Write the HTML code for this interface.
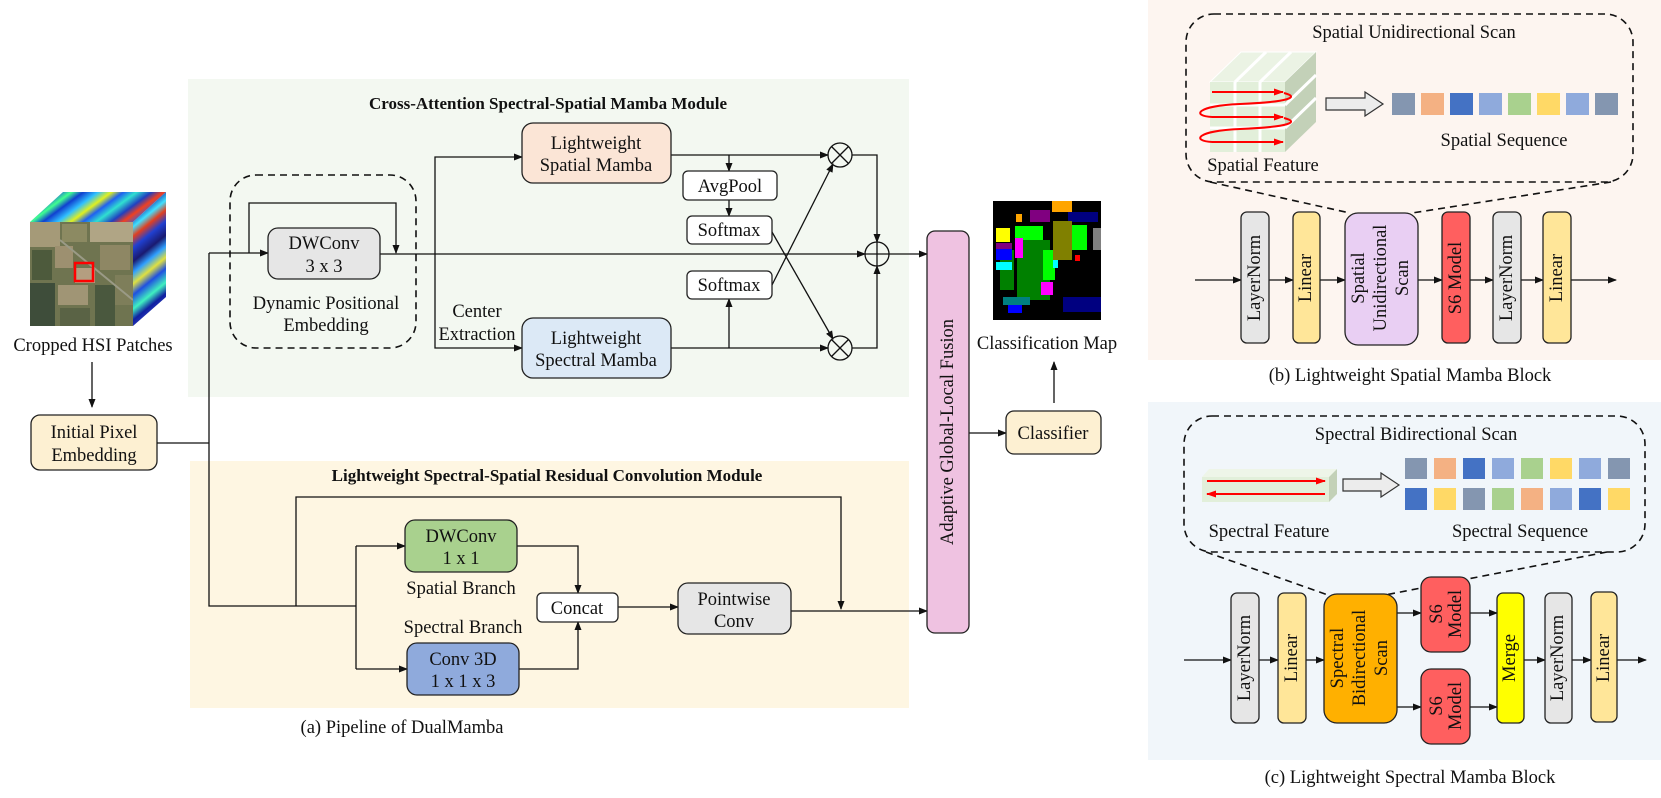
<!DOCTYPE html>
<html><head><meta charset="utf-8"><style>
html,body{margin:0;padding:0;background:#fff;}
svg{display:block;font-family:"Liberation Serif","DejaVu Serif",serif;}
text{fill:#111;font-family:"Liberation Serif","DejaVu Serif",serif;}
</style></head><body>
<svg width="1661" height="798" viewBox="0 0 1661 798" xmlns="http://www.w3.org/2000/svg" font-family="Liberation Serif, serif">
<defs>
<marker id="a" markerWidth="9" markerHeight="8" refX="8" refY="4" orient="auto" markerUnits="userSpaceOnUse"><path d="M0,0.5 L9,4 L0,7.5 z" fill="#111"/></marker>
<marker id="r" markerWidth="10" markerHeight="8" refX="9" refY="4" orient="auto" markerUnits="userSpaceOnUse"><path d="M0,0.5 L10,4 L0,7.5 z" fill="#f00"/></marker>
<linearGradient id="top" x1="0" y1="0" x2="1" y2="0.3">
<stop offset="0" stop-color="#1030c0"/><stop offset="0.1" stop-color="#30d0ff"/><stop offset="0.18" stop-color="#2050e0"/><stop offset="0.28" stop-color="#40ff90"/><stop offset="0.36" stop-color="#1040d0"/><stop offset="0.46" stop-color="#30c0ff"/><stop offset="0.55" stop-color="#e0f020"/><stop offset="0.63" stop-color="#2060f0"/><stop offset="0.72" stop-color="#30e0d0"/><stop offset="0.82" stop-color="#2040c0"/><stop offset="0.9" stop-color="#f04020"/><stop offset="1" stop-color="#3060e0"/>
</linearGradient>
<linearGradient id="side" x1="0" y1="0" x2="0.2" y2="1">
<stop offset="0" stop-color="#2030a0"/><stop offset="0.08" stop-color="#30c0f0"/><stop offset="0.15" stop-color="#1020a0"/><stop offset="0.25" stop-color="#40e0ff"/><stop offset="0.32" stop-color="#e04020"/><stop offset="0.4" stop-color="#2040d0"/><stop offset="0.5" stop-color="#1a1a70"/><stop offset="0.58" stop-color="#30a0ff"/><stop offset="0.66" stop-color="#e0e040"/><stop offset="0.74" stop-color="#2050e0"/><stop offset="0.84" stop-color="#40f0c0"/><stop offset="0.92" stop-color="#1020a0"/><stop offset="1" stop-color="#3040c0"/>
</linearGradient>
<clipPath id="ff"><rect x="30" y="222" width="103" height="104"/></clipPath>
</defs>

<rect x="188" y="79" width="721" height="318" fill="#f3f8f1"/>
<rect x="190" y="461" width="719" height="247" fill="#fef6e2"/>
<rect x="1148" y="0" width="513" height="360" fill="#fdf5f0"/>
<rect x="1148" y="402" width="513" height="358" fill="#f1f6fa"/>

<polygon points="30,222 63,192 166,192 133,222" fill="url(#top)"/>
<polygon points="133,222 166,192 166,297 133,326" fill="url(#side)"/>
<g clip-path="url(#ff)">
<rect x="30" y="222" width="103" height="104" fill="#6f7450"/>
<rect x="30" y="222" width="30" height="25" fill="#a59a78"/>
<rect x="62" y="224" width="25" height="18" fill="#8c8a62"/>
<rect x="90" y="222" width="43" height="20" fill="#b0a585"/>
<rect x="32" y="250" width="20" height="30" fill="#4d5a3c"/>
<rect x="55" y="246" width="18" height="22" fill="#9d9070"/>
<rect x="100" y="245" width="30" height="25" fill="#8e8764"/>
<rect x="30" y="283" width="25" height="43" fill="#3e4d3a"/>
<rect x="58" y="285" width="30" height="20" fill="#a09575"/>
<rect x="60" y="308" width="30" height="18" fill="#5a6345"/>
<rect x="95" y="285" width="20" height="41" fill="#4a583e"/>
<rect x="115" y="275" width="18" height="30" fill="#7e7e5a"/>
<rect x="75" y="268" width="20" height="15" fill="#b49e80"/>
<line x1="60" y1="240" x2="133" y2="300" stroke="#9a9a86" stroke-width="2"/>
</g>
<rect x="75" y="263" width="18" height="18" fill="none" stroke="#f00" stroke-width="2.5"/>
<text x="93" y="351" font-size="18.5" text-anchor="middle">Cropped HSI Patches</text>
<line x1="92" y1="362" x2="92" y2="407" stroke="#111" stroke-width="1.3" marker-end="url(#a)"/>
<rect x="31" y="415" width="126" height="55" rx="9" fill="#fdf0d2" stroke="#222" stroke-width="1.3"/>
<text x="94" y="438" font-size="18.5" text-anchor="middle">Initial Pixel</text>
<text x="94" y="461" font-size="18.5" text-anchor="middle">Embedding</text>

<g stroke="#111" stroke-width="1.3" fill="none">
<polyline points="157,443 209,443"/>
<polyline points="209,253 209,606 356,606"/>
<line x1="209" y1="253" x2="268" y2="253" marker-end="url(#a)"/>
<polyline points="249,253 249,203 396,203 396,253" marker-end="url(#a)"/>
<line x1="380" y1="254" x2="865" y2="254" marker-end="url(#a)"/>
<polyline points="435,254 435,157 522,157" marker-end="url(#a)"/>
<polyline points="435,254 435,348 522,348" marker-end="url(#a)"/>
<line x1="671" y1="155" x2="828" y2="155" marker-end="url(#a)"/>
<line x1="729" y1="155" x2="729" y2="171" marker-end="url(#a)"/>
<line x1="729" y1="200" x2="729" y2="216" marker-end="url(#a)"/>
<line x1="671" y1="348" x2="828" y2="348" marker-end="url(#a)"/>
<line x1="729" y1="348" x2="729" y2="299" marker-end="url(#a)"/>
<line x1="772" y1="232" x2="833" y2="339" marker-end="url(#a)"/>
<line x1="772" y1="285" x2="833" y2="164" marker-end="url(#a)"/>
<polyline points="852,155 877,155 877,242" marker-end="url(#a)"/>
<polyline points="852,348 877,348 877,266" marker-end="url(#a)"/>
<line x1="889" y1="254" x2="927" y2="254" marker-end="url(#a)"/>
<line x1="969" y1="433" x2="1006" y2="433" marker-end="url(#a)"/>
<line x1="1054" y1="403" x2="1054" y2="362" marker-end="url(#a)"/>
</g>
<rect x="230" y="175" width="186" height="173" rx="26" fill="none" stroke="#111" stroke-width="1.6" stroke-dasharray="7,5"/>
<rect x="268" y="228" width="112" height="51" rx="10" fill="#e6e6e6" stroke="#222" stroke-width="1.3"/>
<text x="324" y="249" font-size="18.5" text-anchor="middle">DWConv</text>
<text x="324" y="272" font-size="18.5" text-anchor="middle">3 x 3</text>
<text x="326" y="309" font-size="18.5" text-anchor="middle">Dynamic Positional</text>
<text x="326" y="331" font-size="18.5" text-anchor="middle">Embedding</text>

<text x="548" y="109" font-size="17" font-weight="bold" text-anchor="middle">Cross-Attention Spectral-Spatial Mamba Module</text>
<rect x="522" y="123" width="149" height="60" rx="11" fill="#fbe5d6" stroke="#222" stroke-width="1.3"/>
<text x="596" y="149" font-size="18.5" text-anchor="middle">Lightweight</text>
<text x="596" y="171" font-size="18.5" text-anchor="middle">Spatial Mamba</text>
<rect x="522" y="318" width="149" height="60" rx="11" fill="#dce9f6" stroke="#222" stroke-width="1.3"/>
<text x="596" y="344" font-size="18.5" text-anchor="middle">Lightweight</text>
<text x="596" y="366" font-size="18.5" text-anchor="middle">Spectral Mamba</text>
<text x="477" y="317" font-size="18.5" text-anchor="middle">Center</text>
<text x="477" y="340" font-size="18.5" text-anchor="middle">Extraction</text>
<rect x="683" y="171" width="94" height="29" rx="5" fill="#fff" stroke="#222" stroke-width="1.3"/>
<text x="730" y="192" font-size="18.5" text-anchor="middle">AvgPool</text>
<rect x="687" y="216" width="85" height="28" rx="5" fill="#fff" stroke="#222" stroke-width="1.3"/>
<text x="729" y="236" font-size="18.5" text-anchor="middle">Softmax</text>
<rect x="687" y="271" width="85" height="28" rx="5" fill="#fff" stroke="#222" stroke-width="1.3"/>
<text x="729" y="291" font-size="18.5" text-anchor="middle">Softmax</text>
<g stroke="#111" stroke-width="1.3" fill="none">
<circle cx="840" cy="155" r="12"/><line x1="831.5" y1="146.5" x2="848.5" y2="163.5"/><line x1="848.5" y1="146.5" x2="831.5" y2="163.5"/>
<circle cx="840" cy="348" r="12"/><line x1="831.5" y1="339.5" x2="848.5" y2="356.5"/><line x1="848.5" y1="339.5" x2="831.5" y2="356.5"/>
<circle cx="877" cy="254" r="12"/><line x1="865" y1="254" x2="889" y2="254"/><line x1="877" y1="242" x2="877" y2="266"/>
</g>

<text x="547" y="481" font-size="17" font-weight="bold" text-anchor="middle">Lightweight Spectral-Spatial Residual Convolution Module</text>
<g stroke="#111" stroke-width="1.3" fill="none">
<polyline points="296,606 296,497 841,497 841,609" marker-end="url(#a)"/>
<polyline points="356,546 356,669"/>
<line x1="356" y1="546" x2="405" y2="546" marker-end="url(#a)"/>
<line x1="356" y1="669" x2="407" y2="669" marker-end="url(#a)"/>
<polyline points="517,546 578,546 578,593" marker-end="url(#a)"/>
<polyline points="519,669 578,669 578,622" marker-end="url(#a)"/>
<line x1="618" y1="607" x2="678" y2="607" marker-end="url(#a)"/>
<line x1="791" y1="611" x2="927" y2="611" marker-end="url(#a)"/>
</g>
<rect x="405" y="520" width="112" height="52" rx="10" fill="#a9d18e" stroke="#222" stroke-width="1.3"/>
<text x="461" y="542" font-size="18.5" text-anchor="middle">DWConv</text>
<text x="461" y="564" font-size="18.5" text-anchor="middle">1 x 1</text>
<text x="461" y="594" font-size="18.5" text-anchor="middle">Spatial Branch</text>
<text x="463" y="633" font-size="18.5" text-anchor="middle">Spectral Branch</text>
<rect x="407" y="643" width="112" height="52" rx="10" fill="#8faadc" stroke="#222" stroke-width="1.3"/>
<text x="463" y="665" font-size="18.5" text-anchor="middle">Conv 3D</text>
<text x="463" y="687" font-size="18.5" text-anchor="middle">1 x 1 x 3</text>
<rect x="537" y="593" width="81" height="29" rx="5" fill="#fff" stroke="#222" stroke-width="1.3"/>
<text x="577" y="614" font-size="18.5" text-anchor="middle">Concat</text>
<rect x="678" y="583" width="113" height="51" rx="10" fill="#e6e6e6" stroke="#222" stroke-width="1.3"/>
<text x="734" y="605" font-size="18.5" text-anchor="middle">Pointwise</text>
<text x="734" y="627" font-size="18.5" text-anchor="middle">Conv</text>
<text x="402" y="733" font-size="18.5" text-anchor="middle">(a) Pipeline of DualMamba</text>

<rect x="927" y="231" width="42" height="402" rx="8" fill="#efc2e1" stroke="#222" stroke-width="1.3"/>
<text transform="translate(948,432) rotate(-90)" font-size="18.5" text-anchor="middle" dominant-baseline="central">Adaptive Global-Local Fusion</text>
<rect x="993" y="201" width="108" height="119" fill="#000"/>
<rect x="1017" y="240" width="33" height="60" fill="#008000"/>
<rect x="1000" y="250" width="14" height="40" fill="#008000"/>
<rect x="1015" y="226" width="28" height="14" fill="#00ff00"/>
<rect x="1043" y="250" width="12" height="30" fill="#00ff00"/>
<rect x="1015" y="238" width="8" height="20" fill="#ff00ff"/>
<rect x="1041" y="282" width="12" height="13" fill="#ff00ff"/>
<rect x="996" y="228" width="14" height="14" fill="#ffff00"/>
<rect x="996" y="249" width="16" height="11" fill="#0000ff"/>
<rect x="1008" y="305" width="14" height="8" fill="#0000ff"/>
<rect x="1063" y="297" width="38" height="15" fill="#000080"/>
<rect x="1068" y="212" width="30" height="10" fill="#000080"/>
<rect x="996" y="262" width="16" height="8" fill="#00ffff"/>
<rect x="1053" y="257" width="5" height="11" fill="#00ffff"/>
<rect x="1053" y="221" width="19" height="39" fill="#808000"/>
<rect x="1093" y="228" width="8" height="22" fill="#808080"/>
<rect x="1030" y="210" width="20" height="12" fill="#800080"/>
<rect x="996" y="243" width="16" height="6" fill="#800080"/>
<rect x="1052" y="201" width="20" height="11" fill="#ffa500"/>
<rect x="1016" y="214" width="6" height="8" fill="#ffa500"/>
<rect x="1003" y="297" width="27" height="8" fill="#008080"/>
<rect x="1072" y="225" width="15" height="25" fill="#00ff00"/>
<rect x="1075" y="255" width="5" height="6" fill="#ff0000"/>
<text x="1047" y="349" font-size="18.5" text-anchor="middle">Classification Map</text>
<rect x="1006" y="411" width="95" height="43" rx="8" fill="#fdf0d2" stroke="#222" stroke-width="1.3"/>
<text x="1053" y="439" font-size="18.5" text-anchor="middle">Classifier</text>

<rect x="1186" y="14" width="447" height="168" rx="28" fill="none" stroke="#111" stroke-width="1.6" stroke-dasharray="7,5"/>
<text x="1414" y="38" font-size="18.5" text-anchor="middle">Spatial Unidirectional Scan</text>
<polygon points="1210,82 1241,52 1316,52 1285,82" fill="#ebf3e4" stroke="#fff" stroke-width="1"/>
<polygon points="1285,82 1316,52 1316,122 1285,152" fill="#c3d1b8"/>
<rect x="1210" y="82" width="75" height="70" fill="#e2efda"/>
<g stroke="#fff" stroke-width="3">
<line x1="1235" y1="82" x2="1235" y2="152"/><line x1="1260" y1="82" x2="1260" y2="152"/>
<line x1="1210" y1="105" x2="1285" y2="105"/><line x1="1210" y1="128" x2="1285" y2="128"/>
<line x1="1235" y1="82" x2="1266" y2="52"/><line x1="1260" y1="82" x2="1291" y2="52"/>
<line x1="1285" y1="105" x2="1316" y2="75"/><line x1="1285" y1="128" x2="1316" y2="98"/>
</g>
<g stroke="#f00" stroke-width="2" fill="none">
<line x1="1212" y1="92" x2="1283" y2="92" marker-end="url(#r)"/>
<line x1="1212" y1="117" x2="1283" y2="117" marker-end="url(#r)"/>
<line x1="1212" y1="142" x2="1283" y2="142" marker-end="url(#r)"/>
<path d="M1284,93 C1300,97 1290,102 1240,104 C1195,106 1192,116 1212,117"/>
<path d="M1284,118 C1300,122 1290,127 1240,129 C1195,131 1192,141 1212,142"/>
</g>
<polygon points="1326,98 1365,98 1365,92 1383,104 1365,116 1365,110 1326,110" fill="#ececec" stroke="#333" stroke-width="1.2"/>
<g>
<rect x="1392" y="93" width="23" height="22" fill="#8496b0"/>
<rect x="1421" y="93" width="23" height="22" fill="#f4b183"/>
<rect x="1450" y="93" width="23" height="22" fill="#4472c4"/>
<rect x="1479" y="93" width="23" height="22" fill="#8faadc"/>
<rect x="1508" y="93" width="23" height="22" fill="#a9d18e"/>
<rect x="1537" y="93" width="23" height="22" fill="#ffd966"/>
<rect x="1566" y="93" width="23" height="22" fill="#8faadc"/>
<rect x="1595" y="93" width="23" height="22" fill="#8496b0"/>
</g>
<text x="1504" y="146" font-size="18.5" text-anchor="middle">Spatial Sequence</text>
<text x="1263" y="171" font-size="18.5" text-anchor="middle">Spatial Feature</text>
<g stroke="#111" stroke-width="1.6" stroke-dasharray="7,5">
<line x1="1210" y1="182" x2="1350" y2="213"/><line x1="1611" y1="182" x2="1412" y2="213"/>
</g>
<g stroke="#111" stroke-width="1.3" fill="none">
<line x1="1195" y1="280" x2="1241" y2="280" marker-end="url(#a)"/>
<line x1="1269" y1="280" x2="1293" y2="280" marker-end="url(#a)"/>
<line x1="1320" y1="280" x2="1345" y2="280" marker-end="url(#a)"/>
<line x1="1418" y1="280" x2="1442" y2="280" marker-end="url(#a)"/>
<line x1="1470" y1="280" x2="1493" y2="280" marker-end="url(#a)"/>
<line x1="1521" y1="280" x2="1543" y2="280" marker-end="url(#a)"/>
<line x1="1571" y1="280" x2="1616" y2="280" marker-end="url(#a)"/>
</g>
<g stroke="#222" stroke-width="1.3">
<rect x="1241" y="212" width="28" height="131" rx="6" fill="#e6e6e6"/>
<rect x="1293" y="212" width="27" height="131" rx="6" fill="#ffe699"/>
<rect x="1345" y="213" width="73" height="132" rx="13" fill="#e9cff3"/>
<rect x="1442" y="212" width="28" height="131" rx="6" fill="#ff5f5f"/>
<rect x="1493" y="212" width="28" height="131" rx="6" fill="#e6e6e6"/>
<rect x="1543" y="212" width="28" height="131" rx="6" fill="#ffe699"/>
</g>
<g font-size="18.5" text-anchor="middle" dominant-baseline="central">
<text transform="translate(1255,278) rotate(-90)">LayerNorm</text>
<text transform="translate(1306,278) rotate(-90)">Linear</text>
<text transform="translate(1359,278) rotate(-90)">Spatial</text>
<text transform="translate(1381,278) rotate(-90)">Unidirectional</text>
<text transform="translate(1403,278) rotate(-90)">Scan</text>
<text transform="translate(1456,278) rotate(-90)">S6 Model</text>
<text transform="translate(1507,278) rotate(-90)">LayerNorm</text>
<text transform="translate(1557,278) rotate(-90)">Linear</text>
</g>
<text x="1410" y="381" font-size="18.5" text-anchor="middle">(b) Lightweight Spatial Mamba Block</text>

<rect x="1184" y="416" width="461" height="136" rx="28" fill="none" stroke="#111" stroke-width="1.6" stroke-dasharray="7,5"/>
<text x="1416" y="440" font-size="18.5" text-anchor="middle">Spectral Bidirectional Scan</text>
<polygon points="1202,477 1209,469 1337,469 1329,477" fill="#eef5e8"/>
<polygon points="1329,477 1337,469 1337,494 1329,502" fill="#c3d1b8"/>
<rect x="1202" y="477" width="127" height="25" fill="#e2efda"/>
<line x1="1207" y1="481" x2="1325" y2="481" stroke="#f00" stroke-width="2" marker-end="url(#r)"/>
<line x1="1325" y1="494" x2="1207" y2="494" stroke="#f00" stroke-width="2" marker-end="url(#r)"/>
<polygon points="1343,479 1381,479 1381,473 1399,485 1381,497 1381,491 1343,491" fill="#ececec" stroke="#333" stroke-width="1.2"/>
<g>
<rect x="1405" y="458" width="22" height="21" fill="#8496b0"/>
<rect x="1434" y="458" width="22" height="21" fill="#f4b183"/>
<rect x="1463" y="458" width="22" height="21" fill="#4472c4"/>
<rect x="1492" y="458" width="22" height="21" fill="#8faadc"/>
<rect x="1521" y="458" width="22" height="21" fill="#a9d18e"/>
<rect x="1550" y="458" width="22" height="21" fill="#ffd966"/>
<rect x="1579" y="458" width="22" height="21" fill="#8faadc"/>
<rect x="1608" y="458" width="22" height="21" fill="#8496b0"/>
<rect x="1405" y="488" width="22" height="22" fill="#4472c4"/>
<rect x="1434" y="488" width="22" height="22" fill="#ffd966"/>
<rect x="1463" y="488" width="22" height="22" fill="#8496b0"/>
<rect x="1492" y="488" width="22" height="22" fill="#a9d18e"/>
<rect x="1521" y="488" width="22" height="22" fill="#f4b183"/>
<rect x="1550" y="488" width="22" height="22" fill="#8faadc"/>
<rect x="1579" y="488" width="22" height="22" fill="#4472c4"/>
<rect x="1608" y="488" width="22" height="22" fill="#ffd966"/>
</g>
<text x="1269" y="537" font-size="18.5" text-anchor="middle">Spectral Feature</text>
<text x="1520" y="537" font-size="18.5" text-anchor="middle">Spectral Sequence</text>
<g stroke="#111" stroke-width="1.6" stroke-dasharray="7,5">
<line x1="1206" y1="552" x2="1328" y2="595"/><line x1="1607" y1="552" x2="1385" y2="595"/>
</g>
<g stroke="#111" stroke-width="1.3" fill="none">
<line x1="1184" y1="660" x2="1231" y2="660" marker-end="url(#a)"/>
<line x1="1259" y1="660" x2="1278" y2="660" marker-end="url(#a)"/>
<line x1="1306" y1="660" x2="1324" y2="660" marker-end="url(#a)"/>
<line x1="1397" y1="613" x2="1421" y2="613" marker-end="url(#a)"/>
<line x1="1397" y1="707" x2="1421" y2="707" marker-end="url(#a)"/>
<line x1="1470" y1="613" x2="1497" y2="613" marker-end="url(#a)"/>
<line x1="1470" y1="707" x2="1497" y2="707" marker-end="url(#a)"/>
<line x1="1524" y1="660" x2="1545" y2="660" marker-end="url(#a)"/>
<line x1="1572" y1="660" x2="1591" y2="660" marker-end="url(#a)"/>
<line x1="1617" y1="660" x2="1646" y2="660" marker-end="url(#a)"/>
</g>
<g stroke="#222" stroke-width="1.3">
<rect x="1231" y="593" width="28" height="130" rx="6" fill="#e6e6e6"/>
<rect x="1278" y="593" width="28" height="130" rx="6" fill="#ffe699"/>
<rect x="1324" y="594" width="73" height="129" rx="13" fill="#ffb000"/>
<rect x="1421" y="577" width="49" height="75" rx="10" fill="#ff5f5f"/>
<rect x="1421" y="669" width="49" height="75" rx="10" fill="#ff5f5f"/>
<rect x="1497" y="593" width="27" height="130" rx="6" fill="#ffff00"/>
<rect x="1545" y="593" width="27" height="130" rx="6" fill="#e6e6e6"/>
<rect x="1591" y="592" width="26" height="130" rx="6" fill="#ffe699"/>
</g>
<g font-size="18.5" text-anchor="middle" dominant-baseline="central">
<text transform="translate(1245,658) rotate(-90)">LayerNorm</text>
<text transform="translate(1292,658) rotate(-90)">Linear</text>
<text transform="translate(1338,658) rotate(-90)">Spectral</text>
<text transform="translate(1360,658) rotate(-90)">Bidirectional</text>
<text transform="translate(1382,658) rotate(-90)">Scan</text>
<text transform="translate(1437,614) rotate(-90)">S6</text>
<text transform="translate(1456,614) rotate(-90)">Model</text>
<text transform="translate(1437,706) rotate(-90)">S6</text>
<text transform="translate(1456,706) rotate(-90)">Model</text>
<text transform="translate(1510,658) rotate(-90)">Merge</text>
<text transform="translate(1558,658) rotate(-90)">LayerNorm</text>
<text transform="translate(1604,658) rotate(-90)">Linear</text>
</g>
<text x="1410" y="783" font-size="18.5" text-anchor="middle">(c) Lightweight Spectral Mamba Block</text>
</svg>
</body></html>
